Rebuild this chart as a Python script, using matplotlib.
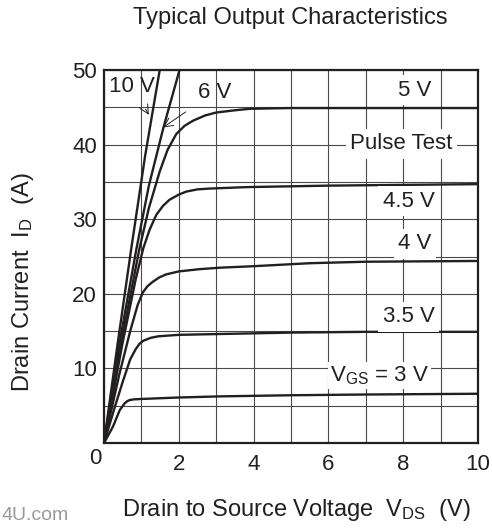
import matplotlib
matplotlib.use('Agg')
import matplotlib.pyplot as plt

plt.rcParams['font.family'] = ['Liberation Sans', 'DejaVu Sans']
plt.rcParams['mathtext.fontset'] = 'custom'
plt.rcParams['mathtext.rm'] = 'Liberation Sans'
plt.rcParams['mathtext.it'] = 'Liberation Sans'
plt.rcParams['mathtext.default'] = 'regular'

ink = '#231f20'

# curves: V_DS (V), I_D (A)
vds_10v = [0, 0.35, 0.73, 1.1, 1.49]
id_10v = [0, 12.8, 26.1, 38.5, 50]
vds_6v = [0, 0.4, 0.87, 1.2, 1.59, 2.02]
id_6v = [0, 13.0, 26.1, 34.5, 42.3, 50]
vds_5v = [0, 0.5, 0.95, 1.2, 1.49, 1.7, 1.93, 2.15, 2.38, 2.7, 3.0, 3.5, 3.9, 5, 7, 10]
id_5v = [0, 14.5, 26.1, 31.5, 36.4, 39.3, 41.4, 42.5, 43.2, 43.9, 44.3, 44.6, 44.8, 44.9, 44.9, 44.9]
vds_45v = [0, 0.5, 0.85, 1.05, 1.22, 1.4, 1.58, 1.75, 2.0, 2.2, 2.5, 2.8, 3.8, 6, 8, 10]
id_45v = [0, 13.5, 22.0, 26.1, 28.6, 30.6, 31.8, 32.6, 33.3, 33.7, 34.0, 34.1, 34.3, 34.5, 34.6, 34.7]
vds_4v = [0, 0.4, 0.7, 0.9, 1.04, 1.16, 1.3, 1.48, 1.66, 2.0, 2.55, 3.1, 4, 5.5, 7, 10]
id_4v = [0, 9.0, 15.0, 18.5, 20.2, 21.0, 21.6, 22.2, 22.6, 23.0, 23.3, 23.5, 23.7, 24.1, 24.3, 24.4]
vds_35v = [0, 0.3, 0.5, 0.7, 0.85, 0.95, 1.05, 1.25, 1.45, 2.0, 3.0, 5, 7, 10]
id_35v = [0, 5.0, 8.2, 11.2, 12.6, 13.3, 13.7, 14.1, 14.3, 14.5, 14.6, 14.8, 14.9, 14.9]
vds_3v = [0, 0.24, 0.42, 0.55, 0.62, 0.68, 0.8, 0.99, 2.0, 3.1, 5, 7, 10]
id_3v = [0, 2.2, 4.4, 5.3, 5.6, 5.75, 5.85, 5.9, 6.1, 6.25, 6.4, 6.5, 6.6]

curve_x = [vds_10v, vds_6v, vds_5v, vds_45v, vds_4v, vds_35v, vds_3v]
curve_y = [id_10v, id_6v, id_5v, id_45v, id_4v, id_35v, id_3v]

# boxed labels at the right of the curves
box_labels = ['5 V', 'Pulse Test', '4.5 V', '4 V', '3.5 V', r'V$_{GS}$ = 3 V']
box_x = [8.31, 7.95, 8.15, 8.31, 8.15, 7.37]
box_y = [47.3, 40.1, 32.4, 26.7, 16.9, 9.0]

# arrow labels for the steep curves
arrow_labels = ['10 V', '6 V']
arrow_text_xy = [(0.75, 47.8), (2.95, 47.0)]
arrow_tip_xy = [(1.2, 44.0), (1.58, 42.3)]

fig = plt.figure(figsize=(4.92, 5.28), dpi=100)
ax = fig.add_axes([104 / 492, 1 - 443 / 528, 374 / 492, 373 / 528])

for xs, ys in zip(curve_x, curve_y):
    ax.plot(xs, ys, color=ink, lw=1.7, solid_joinstyle='round', zorder=3)

ax.set_xlim(0, 10)
ax.set_ylim(0, 50)
ax.set_xticks([2, 4, 6, 8, 10])
ax.set_xticks(range(0, 11), minor=True)
ax.set_yticks([10, 20, 30, 40, 50])
ax.set_yticks(range(0, 51, 5), minor=True)
ax.grid(True, which='both', color='#4a4a4a', lw=0.8, zorder=1)
ax.tick_params(which='both', length=0, labelsize=16, colors=ink)
ax.tick_params(axis='x', pad=8)
ax.tick_params(axis='y', pad=5)
for s in ax.spines.values():
    s.set_linewidth(1.6)
    s.set_color(ink)

for lab, x, y in zip(box_labels, box_x, box_y):
    pad = 0.1 if lab.startswith('V$') else 0.2
    ax.text(x, y, lab, ha='center', va='center', fontsize=16, color=ink, zorder=5,
            bbox=dict(boxstyle='square,pad=%s' % pad, fc='white', ec='none'))

for lab, txy, pxy in zip(arrow_labels, arrow_text_xy, arrow_tip_xy):
    ax.annotate(lab, xy=pxy, xytext=txy, ha='center', va='center', fontsize=16,
                color=ink, zorder=5,
                arrowprops=dict(arrowstyle='->', color=ink, lw=0.7,
                                shrinkA=8, shrinkB=0))

fig.text(95 / 492, 1 - 458 / 528, '0', ha='center', va='center', fontsize=16, color=ink)
fig.text(290 / 492, 1 - 18 / 528, 'Typical Output Characteristics',
         ha='center', va='center', fontsize=17, color=ink)
fig.text(23 / 492, 1 - 282 / 528, r'Drain Current  I$_D$  (A)', rotation=90,
         ha='center', va='center', fontsize=17, color=ink)
fig.text(296 / 492, 1 - 510 / 528, r'Drain to Source Voltage  V$_{DS}$  (V)',
         ha='center', va='center', fontsize=17, color=ink)
fig.text(1 / 492, 1 - 516 / 528, '4U.com', ha='left', va='center',
         fontsize=14, color='#9a9a9a')

fig.savefig('out.png', dpi=100)
plt.close('all')
